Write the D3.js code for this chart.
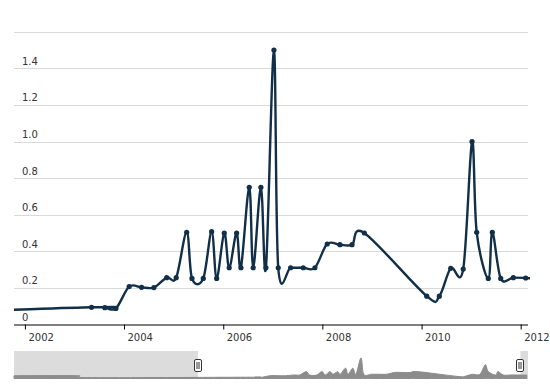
<!DOCTYPE html>
<html>
<head>
<meta charset="utf-8">
<script src="https://cdn.jsdelivr.net/npm/d3@7"></script>
<style>
  html, body { margin: 0; padding: 0; background: #fff; }
  svg { display: block; font-family: "DejaVu Sans", Verdana, sans-serif; }
</style>
</head>
<body>
<svg id="chart" width="550" height="387"></svg>
<script>
// ---- data (decimal years, values) ----
const years = [1995.87, 1997.9, 1998.2, 2003.345, 2003.614, 2003.836, 2004.104, 2004.354, 2004.602,
  2004.859, 2005.05, 2005.262, 2005.369, 2005.597, 2005.766, 2005.867, 2006.02, 2006.12, 2006.27,
  2006.357, 2006.525, 2006.605, 2006.76, 2006.862, 2007.023, 2007.11, 2007.36, 2007.614, 2007.85,
  2008.098, 2008.354, 2008.597, 2008.845, 2010.104, 2010.358, 2010.588, 2010.84, 2011.018, 2011.112,
  2011.346, 2011.427, 2011.597, 2011.851, 2012.1, 2012.35];
const values = [0.2, 0.2, 0.065, 0.094, 0.092, 0.088, 0.207, 0.203, 0.202,
  0.256, 0.256, 0.504, 0.252, 0.252, 0.507, 0.252, 0.5, 0.31, 0.5,
  0.31, 0.75, 0.31, 0.75, 0.31, 1.5, 0.31, 0.31, 0.31, 0.31,
  0.44, 0.436, 0.436, 0.5, 0.155, 0.155, 0.307, 0.303, 1.0, 0.504,
  0.252, 0.504, 0.252, 0.256, 0.254, 0.25];
const yTicks = [0, 0.2, 0.4, 0.6, 0.8, 1.0, 1.2, 1.4, 1.6];
const yTickLabels = ["0", "0.2", "0.4", "0.6", "0.8", "1.0", "1.2", "1.4", ""];
const xTickYears = [2002, 2004, 2006, 2008, 2010, 2012];
const viewRange = [2001.78, 2012.147];
const navRange = [1995.87, 2012.39];

(function () {
function toDate(yv) {
  const yr = Math.floor(yv);
  const a = new Date(yr, 0, 1).getTime(), b = new Date(yr + 1, 0, 1).getTime();
  return new Date(a + (yv - yr) * (b - a));
}
const data = years.map((yv, i) => ({ date: toDate(yv), value: values[i] }));

const svg = d3.select("#chart");
const pLeft = 14, pRight = 528, pTop = 31.7, pBottom = 324.5;

const x = d3.scaleTime().domain(viewRange.map(toDate)).range([pLeft, pRight]);
const y = d3.scaleLinear().domain([0, 1.6]).range([pBottom, pTop]);

// grid
svg.append("g").selectAll("line").data(yTicks.slice(1)).join("line")
  .attr("x1", pLeft).attr("x2", pRight)
  .attr("y1", d => Math.round(y(d)) + 0.5).attr("y2", d => Math.round(y(d)) + 0.5)
  .attr("stroke", "#d9d9d9").attr("stroke-width", 1);
svg.append("g").selectAll("text").data(yTicks).join("text")
  .attr("x", 22).attr("y", d => y(d) - 3.5)
  .attr("font-size", 10).attr("fill", "#333")
  .text((d, i) => yTickLabels[i]);

// x axis
const xAxis = d3.axisBottom(x)
  .tickValues(xTickYears.map(toDate))
  .tickFormat(d3.timeFormat("%Y"))
  .tickSize(5).tickSizeOuter(0);
const gx = svg.append("g").attr("transform", `translate(0,${Math.round(pBottom) - 0.5})`).call(xAxis);
gx.select(".domain").attr("stroke", "#000").attr("d", `M${pLeft},0.5H${pRight}`);
gx.selectAll(".tick line").attr("stroke", "#000");
gx.selectAll(".tick text").attr("text-anchor", "start").attr("x", 3).attr("y", 9)
  .attr("font-size", 10).attr("fill", "#333").attr("font-family", "DejaVu Sans, Verdana, sans-serif");

// main line
svg.append("clipPath").attr("id", "clip").append("rect")
  .attr("x", pLeft).attr("y", 0).attr("width", pRight - pLeft + 2).attr("height", pBottom + 2);
const curve = d3.curveCatmullRom.alpha(0);
const line = d3.line().x(d => x(d.date)).y(d => y(d.value)).curve(curve);
const color = "#112f48";
const plot = svg.append("g").attr("clip-path", "url(#clip)");
plot.append("path").datum(data).attr("d", line)
  .attr("fill", "none").attr("stroke", color).attr("stroke-width", 2.4).attr("stroke-linejoin", "round");
plot.selectAll("circle").data(data).join("circle")
  .attr("cx", d => x(d.date)).attr("cy", d => y(d.value)).attr("r", 2.6).attr("fill", color);

// navigator
const nTop = 351, nBottom = 379;
const nx = d3.scaleTime().domain(navRange.map(toDate)).range([pLeft, pRight]);
const ny = d3.scaleLinear().domain([0, 2]).range([378.5, nTop]);
const h0 = nx(toDate(viewRange[0])), h1 = nx(toDate(viewRange[1]));
svg.append("rect").attr("x", pLeft).attr("y", nTop).attr("width", h0 - pLeft).attr("height", nBottom - nTop).attr("fill", "#dcdcdc");
svg.append("rect").attr("x", h1).attr("y", nTop).attr("width", pRight - h1).attr("height", nBottom - nTop).attr("fill", "#dcdcdc");
const area = d3.area().x(d => nx(d.date)).y0(378.5).y1(d => ny(d.value)).curve(curve);
svg.append("path").datum(data).attr("d", area).attr("fill", "#8c8c8c").attr("stroke", "#8c8c8c").attr("stroke-width", 1);

// handles
[h0, h1].forEach(h => {
  const g = svg.append("g").attr("transform", `translate(${Math.round(h)},0)`);
  g.append("rect").attr("x", -3.5).attr("y", 359.5).attr("width", 7).attr("height", 12).attr("rx", 1.5)
    .attr("fill", "#fff").attr("stroke", "#333").attr("stroke-width", 1);
  g.append("line").attr("x1", -1).attr("x2", -1).attr("y1", 362).attr("y2", 369).attr("stroke", "#333");
  g.append("line").attr("x1", 1).attr("x2", 1).attr("y1", 362).attr("y2", 369).attr("stroke", "#333");
});
})();
</script>
</body>
</html>
